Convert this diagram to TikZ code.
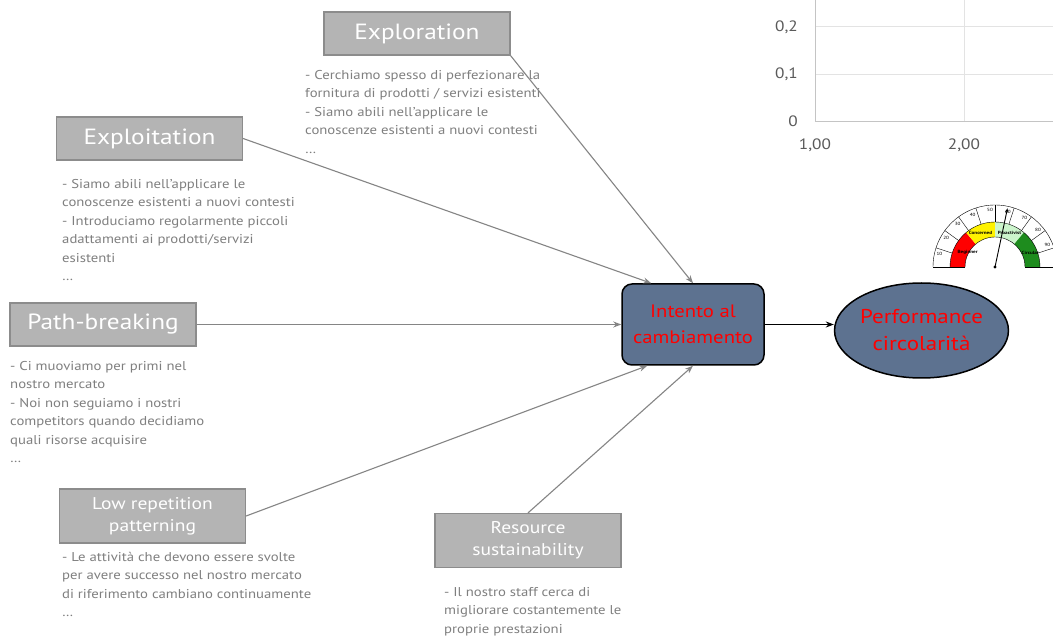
\documentclass[tikz,border=0pt]{standalone}
\usepackage{fontspec}
\setmainfont{PT Sans}[FakeStretch=1.15]
\usetikzlibrary{arrows.meta,shapes.geometric,calc}
\definecolor{boxfill}{HTML}{B4B4B4}
\definecolor{boxline}{HTML}{8C8C8C}
\definecolor{desccol}{HTML}{7F7F7F}
\definecolor{slate}{HTML}{5D7290}
\definecolor{arrcol}{HTML}{858585}
\definecolor{gridcol}{HTML}{E3E3E3}
\definecolor{axiscol}{HTML}{C4C4C4}
\definecolor{labcol}{HTML}{5A5A5A}
\definecolor{lightgreen}{HTML}{CCF5CC}
\definecolor{darkgreen}{HTML}{1E8C1E}
\begin{document}
\begin{tikzpicture}[x=1pt,y=-1pt,
  head/.style={draw=boxline,fill=boxfill,line width=1.2pt,text=white,minimum width=186pt,minimum height=43pt,inner sep=0pt,align=center,font=\fontsize{22}{24}\selectfont},
  headtwo/.style={head,minimum height=54pt,font=\fontsize{17}{22}\selectfont},
  desc/.style={anchor=north west,align=left,inner sep=0pt,text=desccol,font=\fontsize{12.8}{18.5}\selectfont},
  link/.style={draw=arrcol,line width=1.1pt,-{Stealth[length=8pt,width=6pt]}},
  core/.style={draw=black,line width=1.5pt,fill=slate,text=red,align=center,inner sep=0pt},
  ylab/.style={anchor=east,text=labcol,font=\fontsize{15}{16}\selectfont,inner sep=0pt},
  xlab/.style={anchor=center,text=labcol,font=\fontsize{15}{16}\selectfont,inner sep=0pt},
  glab/.style={font=\fontsize{4.5}{5}\selectfont,inner sep=0pt},
  gband/.style={font=\bfseries\fontsize{4.5}{5}\selectfont,inner sep=0pt}]
\useasboundingbox (0,0) rectangle (1053,636);
\clip (0,0) rectangle (1053,636);
\fill[white] (0,0) rectangle (1053,636);

% chart fragment
\draw[gridcol,line width=1pt] (815,27) -- (1053,27);
\draw[gridcol,line width=1pt] (815,75) -- (1053,75);
\draw[gridcol,line width=1pt] (964,0) -- (964,122);
\draw[axiscol,line width=1pt] (815,0) -- (815,122) -- (1053,122);
\node[ylab] (y2) at (798,27) {0,2};
\node[ylab] (y1) at (798,74) {0,1};
\node[ylab] (y0) at (798,121) {0};
\node[xlab] (x1) at (815,145) {1,00};
\node[xlab] (x2) at (964,145) {2,00};

% gauge
\begin{scope}[shift={(995,267)}]
  \fill[red] (180:45pt) arc[start angle=180,end angle=130,radius=45pt] -- (130:30pt) arc[start angle=130,end angle=180,radius=30pt] -- cycle;
  \fill[yellow] (130:45pt) arc[start angle=130,end angle=90,radius=45pt] -- (90:30pt) arc[start angle=90,end angle=130,radius=30pt] -- cycle;
  \fill[lightgreen] (90:45pt) arc[start angle=90,end angle=50,radius=45pt] -- (50:30pt) arc[start angle=50,end angle=90,radius=30pt] -- cycle;
  \fill[darkgreen] (50:45pt) arc[start angle=50,end angle=0,radius=45pt] -- (0:30pt) arc[start angle=0,end angle=50,radius=30pt] -- cycle;
  \draw[line width=0.4pt] (180:62pt) arc[start angle=180,end angle=0,radius=62pt];
  \draw[line width=0.4pt] (180:45pt) arc[start angle=180,end angle=0,radius=45pt];
  \draw[line width=0.4pt] (180:30pt) arc[start angle=180,end angle=0,radius=30pt];
  \draw[line width=0.4pt] (180:30pt) -- (180:62pt);
  \draw[line width=0.4pt] (0:30pt) -- (0:62pt);
  \foreach \k in {1,...,9} {
    \draw[line width=0.4pt] ({180-18*\k}:45pt) -- ({180-18*\k}:62pt);
    \node[glab] at ({180-18*\k+5}:57pt) {\the\numexpr\k*10\relax};
  }
  \node[gband] at (152:31pt) {Beginner};
  \node[gband] at (113:37pt) {Concerned};
  \node[gband] at (67:37pt) {Proactivist};
  \node[gband] at (22:38pt) {Circular};
  \draw[line width=0.9pt,-{Stealth[length=4pt,width=3pt]}] (0,0) -- (78:60pt);
  \fill (0,0) circle[radius=1.6pt];
\end{scope}

% header boxes
\node[head] (expl) at (417,33.5) {\raisebox{-1.5pt}{Exploration}};
\node[head] (exploit) at (149.5,138.5) {\raisebox{-1.5pt}{Exploitation}};
\node[head] (pb) at (103,324.5) {\raisebox{-1.5pt}{Path-breaking}};
\node[headtwo] (low) at (152.5,516) {Low repetition\\patterning};
\node[headtwo] (res) at (528,540.5) {Resource\\sustainability};

% descriptions
\node[desc] (d1) at (305,70) {- Cerchiamo spesso di perfezionare la\\fornitura di prodotti / servizi esistenti\\- Siamo abili nell'applicare le\\conoscenze esistenti a nuovi contesti\\…};
\node[desc] (d2) at (62,179) {- Siamo abili nell'applicare le\\conoscenze esistenti a nuovi contesti\\- Introduciamo regolarmente piccoli\\adattamenti ai prodotti/servizi\\esistenti\\…};
\node[desc] (d3) at (10,361) {- Ci muoviamo per primi nel\\nostro mercato\\- Noi non seguiamo i nostri\\competitors quando decidiamo\\quali risorse acquisire\\…};
\node[desc] (d4) at (62,552) {- Le attività che devono essere svolte\\per avere successo nel nostro mercato\\di riferimento cambiano continuamente\\…};
\node[desc] (d5) at (444,587) {- Il nostro staff cerca di\\migliorare costantemente le\\proprie prestazioni};

% core
\node[core,rounded corners=10pt,minimum width=142pt,minimum height=81pt,font=\fontsize{18}{26}\selectfont] (int) at (693,324.5) {Intento al\\cambiamento};
\node[core,ellipse,minimum width=167pt,minimum height=95pt,font=\fontsize{20}{27}\selectfont] (perf) at (921.5,330.5) {Performance\\circolarità};

% connectors
\draw[link] (expl.south east) -- (int.north);
\draw[link] (exploit.east) -- ([xshift=30pt]int.north west);
\draw[link] (pb.east) -- (int.west);
\draw[link] (low.east) -- ([xshift=26pt]int.south west);
\draw[link] (res.north) -- (int.south);
\draw[line width=1.3pt,-{Stealth[length=8pt,width=6pt]}] (int.east) -- (int.east -| perf.west);
\end{tikzpicture}
\end{document}
